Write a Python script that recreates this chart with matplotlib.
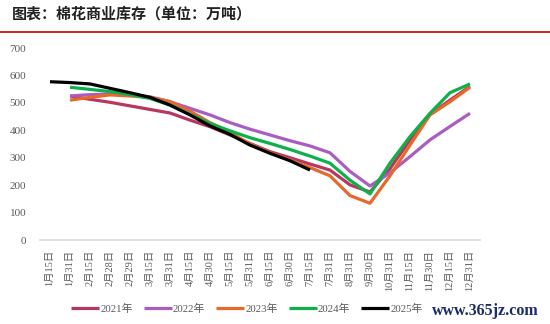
import numpy as np
import matplotlib
matplotlib.use("Agg")
import matplotlib.pyplot as plt

plt.rcParams['font.family'] = ['Liberation Serif', 'Noto Sans CJK SC']

dates = ["1月15日", "1月31日", "2月15日", "2月28日", "2月29日", "3月15日",
         "3月31日", "4月15日", "4月30日", "5月15日", "5月31日", "6月15日",
         "6月30日", "7月15日", "7月31日", "8月31日", "9月30日", "10月31日",
         "11月15日", "11月30日", "12月15日", "12月31日"]

nan = np.nan
y2021 = [nan, 525, 513, 502, 489, 476, 463, 437, 413, 383, 352, 322,
         300, 277, 255, 201, 175, 260, 365, 458, 510, 560]
y2022 = [nan, 525, 530, 532, 530, 522, 504, 480, 456, 428, 404, 383,
         362, 343, 318, 250, 197, 245, 304, 365, 414, 462]
y2023 = [nan, 510, 520, 529, 525, 520, 505, 470, 428, 392, 350, 318,
         292, 264, 234, 162, 134, 234, 346, 456, 504, 557]
y2024 = [nan, 557, 549, 541, 530, 516, 492, 458, 425, 398, 373, 352,
         330, 306, 280, 218, 168, 280, 377, 462, 537, 569]
y2025 = [577, 574, 569, 553, 537, 520, 492, 456, 416, 385, 346, 316,
         289, 255]

series = [
    ("2021年", y2021, "#B8375F"),
    ("2022年", y2022, "#A95DC2"),
    ("2023年", y2023, "#E8682C"),
    ("2024年", y2024, "#0DB04B"),
    ("2025年", y2025, "#000000"),
]

fig = plt.figure(figsize=(5.5, 3.24), dpi=100)
ax = fig.add_axes([40 / 550, 84 / 324, 440 / 550, 192 / 324])

x = np.arange(len(dates))
for name, vals, color in series:
    ax.plot(x[:len(vals)], vals, color=color, lw=2.3, label=name,
            solid_capstyle='butt')

ax.set_xlim(-0.5, len(dates) - 0.5)
ax.set_ylim(0, 700)
ax.set_yticks(np.arange(0, 701, 100))
ax.set_xticks(x)
ax.set_xticklabels(dates, rotation=90, fontsize=7.5, color="#595959")
ax.tick_params(axis='y', length=0, labelsize=8, labelcolor="#595959", pad=10)
ax.tick_params(axis='x', length=0, pad=7)
for s in ['top', 'right', 'left']:
    ax.spines[s].set_visible(False)
ax.spines['bottom'].set_color("#D9D9D9")
ax.spines['bottom'].set_linewidth(1.2)

fig.text(12 / 550, 1 - 14 / 324, "图表：棉花商业库存（单位：万吨）",
         fontsize=10.8, fontweight='bold', va='center', ha='left',
         family=['Noto Sans CJK SC'], color="#222222")
fig.add_artist(plt.Line2D([0, 1], [1 - 32 / 324, 1 - 32 / 324],
                          color="#C00000", lw=1.2))

leg = fig.legend(loc='center', bbox_to_anchor=(247 / 550, 1 - 309 / 324),
                 ncol=5, frameon=False, fontsize=7.8, handlelength=2.6,
                 handletextpad=0.1, columnspacing=1.0)
for t in leg.get_texts():
    t.set_color("#595959")

fig.text(432 / 550, 1 - 311 / 324, "www.365jz.com", fontsize=11.5,
         fontweight='bold', color="#1B2A6B", ha='left', va='center')

fig.savefig("out.png", dpi=100)
